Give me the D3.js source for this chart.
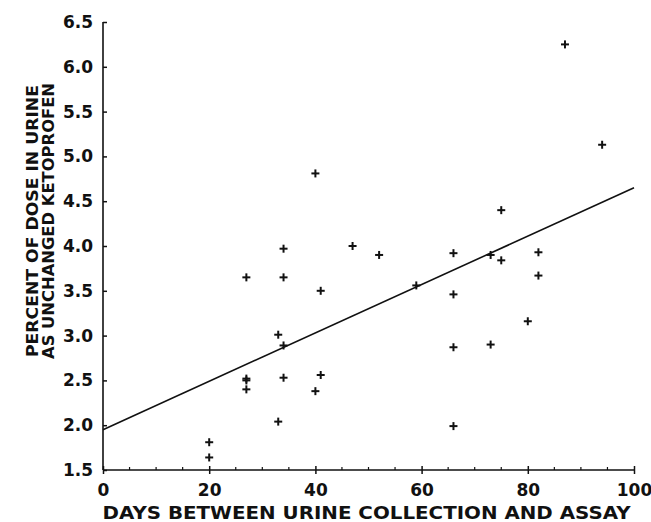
<!DOCTYPE html>
<html>
<head>
<meta charset="utf-8">
<script src="https://cdn.jsdelivr.net/npm/d3@7"></script>
<style>
  body { margin: 0; background: #fff; }
  text { font-family: "DejaVu Sans", "Liberation Sans", Arial, sans-serif; font-weight: bold; fill: #111; }
</style>
</head>
<body>
<svg class="chart"></svg>
<script>
// days between urine collection and assay
var days = [20, 20, 27, 27, 27, 27, 33, 33, 34, 34, 34, 34, 40, 40, 41, 41, 47, 52, 59,
            66, 66, 66, 66, 73, 73, 75, 75, 80, 82, 82, 87, 94];
// percent of dose as unchanged ketoprofen
var percent = [1.81, 1.64, 3.65, 2.52, 2.50, 2.40, 3.01, 2.04, 3.97, 3.65, 2.89, 2.53, 4.81, 2.38,
               3.50, 2.56, 4.00, 3.90, 3.56, 3.92, 3.46, 2.87, 1.99, 3.90, 2.90, 4.40, 3.84,
               3.16, 3.93, 3.67, 6.25, 5.13];
// fitted regression line
var fitX = [0, 100];
var fitY = [1.95, 4.65];
var xTicks = [0, 20, 40, 60, 80, 100];
var xMinor = [5, 10, 15, 25, 30, 35, 45, 50, 55, 65, 70, 75, 85, 90, 95];
var yTicks = [1.5, 2.0, 2.5, 3.0, 3.5, 4.0, 4.5, 5.0, 5.5, 6.0, 6.5];

document.addEventListener("DOMContentLoaded", function(){
    var svgWidth = 651, svgHeight = 522;
    var margin = {"top": 22, "right": 17, "bottom": 52, "left": 103};

    var chart = d3.select(".chart")
        .attr("width", svgWidth)
        .attr("height", svgHeight);

    var xScale = d3.scaleLinear().domain([0, 100]).range([margin.left, svgWidth - margin.right]);
    var yScale = d3.scaleLinear().domain([1.5, 6.5]).range([svgHeight - margin.bottom, margin.top]);

    var y0 = yScale(1.5);
    var x0 = xScale(0);

    //--------AXES------------
    var xAxis = d3.axisBottom(xScale).tickValues(xTicks).tickSize(4).tickPadding(10)
        .tickFormat(d3.format("d"));
    var gx = chart.append("g")
        .attr("transform", "translate(0," + y0 + ")")
        .call(xAxis);
    gx.select(".domain").remove();
    gx.selectAll(".tick line").attr("y1", -4).attr("stroke", "#111").attr("stroke-width", 1.5);
    gx.selectAll(".tick text").attr("font-size", 17).attr("font-family", null).attr("fill", "#111");

    gx.selectAll("line.minor")
        .data(xMinor)
        .enter()
        .append("line")
        .attr("class", "minor")
        .attr("x1", function(d){ return xScale(d); })
        .attr("x2", function(d){ return xScale(d); })
        .attr("y1", -3).attr("y2", 0)
        .attr("stroke", "#111").attr("stroke-width", 1.2);

    var yAxis = d3.axisLeft(yScale).tickValues(yTicks).tickSize(4).tickPadding(6)
        .tickFormat(d3.format(".1f"));
    var gy = chart.append("g")
        .attr("transform", "translate(" + x0 + ",0)")
        .call(yAxis);
    gy.select(".domain").remove();
    gy.selectAll(".tick line").attr("x2", 4).attr("stroke", "#111").attr("stroke-width", 1.5);
    gy.selectAll(".tick text").attr("font-size", 17).attr("font-family", null).attr("fill", "#111");

    // axis lines
    chart.append("line")
        .attr("x1", x0).attr("x2", xScale(100))
        .attr("y1", y0).attr("y2", y0)
        .attr("stroke", "#111").attr("stroke-width", 1.6);
    chart.append("line")
        .attr("x1", x0).attr("x2", x0)
        .attr("y1", y0).attr("y2", yScale(6.5))
        .attr("stroke", "#111").attr("stroke-width", 1.6);

    //--------REGRESSION LINE------------
    var line = d3.line()
        .x(function(d){ return xScale(d[0]); })
        .y(function(d){ return yScale(d[1]); });
    chart.append("path")
        .datum(d3.zip(fitX, fitY))
        .attr("d", line)
        .attr("fill", "none")
        .attr("stroke", "#111")
        .attr("stroke-width", 1.6);

    //--------POINTS------------
    chart.selectAll("g.pt")
        .data(d3.zip(days, percent))
        .enter()
        .append("g")
        .attr("class", "pt")
        .attr("transform", function(d){ return "translate(" + xScale(d[0]) + "," + yScale(d[1]) + ")"; })
        .each(function(){
            var g = d3.select(this);
            g.append("line").attr("x1", -4).attr("x2", 4).attr("y1", 0).attr("y2", 0);
            g.append("line").attr("x1", 0).attr("x2", 0).attr("y1", -4).attr("y2", 4);
        })
        .selectAll("line")
        .attr("stroke", "#111")
        .attr("stroke-width", 2);

    //--------LABELS------------
    chart.append("text")
        .attr("x", (xScale(0) + xScale(100)) / 2 - 2)
        .attr("y", 519)
        .attr("text-anchor", "middle")
        .attr("font-size", 17)
        .attr("textLength", 528)
        .attr("lengthAdjust", "spacingAndGlyphs")
        .text("DAYS BETWEEN URINE COLLECTION AND ASSAY");

    var ylab = chart.append("g")
        .attr("transform", "translate(0,221) rotate(-90)");
    ylab.append("text")
        .attr("x", 0).attr("y", 38)
        .attr("text-anchor", "middle")
        .attr("font-size", 16)
        .attr("textLength", 272)
        .attr("lengthAdjust", "spacingAndGlyphs")
        .text("PERCENT OF DOSE IN URINE");
    ylab.append("text")
        .attr("x", 0).attr("y", 54)
        .attr("text-anchor", "middle")
        .attr("font-size", 16)
        .attr("textLength", 276)
        .attr("lengthAdjust", "spacingAndGlyphs")
        .text("AS UNCHANGED KETOPROFEN");
})
</script>
</body>
</html>
